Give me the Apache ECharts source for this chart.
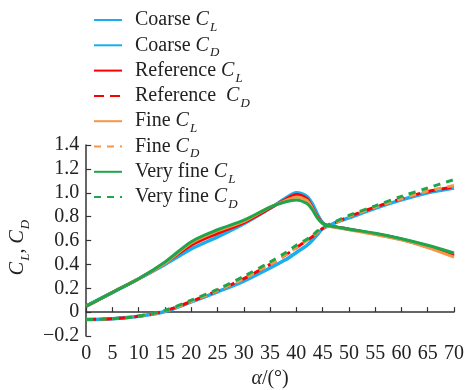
<!DOCTYPE html>
<html>
<head>
<meta charset="utf-8">
<script src="https://cdn.jsdelivr.net/npm/echarts@6/dist/echarts.min.js"></script>
<style>
html,body{margin:0;padding:0;background:#fff;}
#c{width:467px;height:390px;}
</style>
</head>
<body>
<div id="c"></div>
<script>
// ---- data ----
var alpha = [0,5,10,15,20,25,30,35,38,40,42,43,44,45,46,48,50,55,60,65,70];

var coarseCL   = [0.05,0.165,0.28,0.40,0.53,0.63,0.74,0.87,0.955,1.0,0.97,0.91,0.82,0.75,0.725,0.71,0.695,0.655,0.61,0.55,0.48];
var coarseCD   = [-0.062,-0.055,-0.035,0.005,0.085,0.17,0.26,0.37,0.44,0.50,0.56,0.60,0.65,0.70,0.72,0.76,0.79,0.87,0.94,1.00,1.04];
var refCL      = [0.05,0.165,0.28,0.41,0.56,0.66,0.75,0.87,0.945,0.985,0.95,0.88,0.80,0.745,0.725,0.71,0.695,0.655,0.61,0.545,0.47];
var refCD      = [-0.062,-0.055,-0.035,0.01,0.09,0.18,0.28,0.40,0.48,0.54,0.60,0.63,0.67,0.70,0.725,0.76,0.80,0.88,0.95,1.01,1.05];
var fineCL     = [0.05,0.165,0.28,0.41,0.58,0.68,0.76,0.88,0.935,0.965,0.935,0.87,0.79,0.74,0.72,0.705,0.69,0.65,0.605,0.54,0.46];
var fineCD     = [-0.062,-0.055,-0.035,0.01,0.09,0.18,0.28,0.40,0.48,0.54,0.60,0.63,0.67,0.70,0.725,0.76,0.80,0.88,0.95,1.015,1.06];
var vfineCL    = [0.05,0.165,0.28,0.42,0.59,0.69,0.77,0.88,0.925,0.94,0.91,0.86,0.79,0.745,0.725,0.71,0.695,0.66,0.615,0.56,0.495];
var vfineCD    = [-0.062,-0.055,-0.033,0.015,0.10,0.19,0.30,0.42,0.50,0.56,0.61,0.64,0.68,0.705,0.73,0.77,0.81,0.89,0.97,1.04,1.11];

var seriesNames = ['Coarse CL','Coarse CD','Reference CL','Reference CD','Fine CL','Fine CD','Very fine CL','Very fine CD'];
var legendLabels = ['Coarse','Coarse','Reference','Reference ','Fine','Fine','Very fine','Very fine'];
var legendSubs = ['L','D','L','D','L','D','L','D'];
var yTicks = [-0.2,0,0.2,0.4,0.6,0.8,1.0,1.2,1.4];
var xTicks = [0,5,10,15,20,25,30,35,40,45,50,55,60,65,70];

// ---- chart ----
var FONT = '"Liberation Serif", "Times New Roman", serif';
var rich = {
  g: {width: 8, fontSize: 20, fontFamily: FONT},
  n: {fontSize: 20, fontFamily: FONT, color: '#222', lineHeight: 20, verticalAlign: 'top'},
  i: {fontSize: 20, fontFamily: FONT, fontStyle: 'italic', color: '#222', lineHeight: 20, verticalAlign: 'top'},
  s: {fontSize: 13, fontFamily: FONT, fontStyle: 'italic', color: '#222', lineHeight: 13, padding: [11,0,0,1], verticalAlign: 'top'}
};

function pairs(ys){ return alpha.map(function(a,k){ return [a, ys[k]]; }); }

var colors = {
  coarse: '#19aeee',
  ref: '#ff0000',
  fine: '#f7964a',
  vfine: '#1fa64a'
};

function mk(name, ys, color, type, width, z){
  return {
    name: name, type: 'line', data: pairs(ys), showSymbol: false, symbol: 'none',
    smooth: 0.3,
    lineStyle: {color: color, width: width, type: type},
    itemStyle: {color: color}, z: z, animation: false
  };
}

var chart = echarts.init(document.getElementById('c'), null, {renderer: 'canvas'});
chart.setOption({
  animation: false,
  backgroundColor: '#fff',
  grid: {left: 70, right: 10, top: 145, bottom: 54, containLabel: false},
  legend: {
    orient: 'vertical', left: 93, top: 10, padding: 0,
    itemWidth: 28, itemHeight: 14, itemGap: 1.3,
    itemStyle: {opacity: 0},
    data: seriesNames,
    formatter: function(name){
      var k = seriesNames.indexOf(name);
      return '{g| }{n|' + legendLabels[k] + ' }{i|C}{s|' + legendSubs[k] + '}';
    },
    textStyle: {rich: rich, fontFamily: FONT, fontSize: 20}
  },
  xAxis: {
    type: 'value', min: 0, max: 70, interval: 5,
    name: '{i|α}{n|/(°)}', nameLocation: 'middle', nameGap: 33,
    nameTextStyle: {rich: rich},
    axisLine: {lineStyle: {color: '#333', width: 1.5}},
    axisTick: {inside: true, length: 5, lineStyle: {color: '#333', width: 1.2}},
    axisLabel: {fontFamily: FONT, fontSize: 20, color: '#222', margin: 8,
      formatter: function(v){ return xTicks.indexOf(v) >= 0 ? String(v) : ''; }},
    splitLine: {show: false}
  },
  yAxis: {
    type: 'value', min: -0.2, max: 1.4, interval: 0.2,
    name: '{i|C}{s|L}{n|, }{i|C}{s|D}', nameLocation: 'middle', nameGap: 38, nameRotate: 90,
    nameTextStyle: {rich: rich, padding: [0, 14, 0, 0]},
    axisLine: {show: true, lineStyle: {color: '#333', width: 1.5}},
    axisTick: {show: true, inside: true, length: 5, lineStyle: {color: '#333', width: 1.2}},
    axisLabel: {fontFamily: FONT, fontSize: 20, color: '#222', margin: 7,
      formatter: function(v){
        var r = Math.round(v*10)/10;
        if (Math.abs(r) < 1e-9) return '0';
        var s = Math.abs(r).toFixed(1);
        return (r < 0 ? '\u2212' : '') + s;
      }},
    splitLine: {show: false}
  },
  series: [
    mk(seriesNames[0], coarseCL, colors.coarse, 'solid', 3.5, 1),
    mk(seriesNames[1], coarseCD, colors.coarse, 'solid', 3.5, 1),
    mk(seriesNames[2], refCL, colors.ref, 'solid', 3, 2),
    mk(seriesNames[3], refCD, colors.ref, [10,6], 3, 2),
    mk(seriesNames[4], fineCL, colors.fine, 'solid', 3, 3),
    mk(seriesNames[5], fineCD, colors.fine, [7,6], 3, 3),
    mk(seriesNames[6], vfineCL, colors.vfine, 'solid', 3, 4),
    mk(seriesNames[7], vfineCD, colors.vfine, [7,6], 3, 4)
  ]
});
</script>
</body>
</html>
